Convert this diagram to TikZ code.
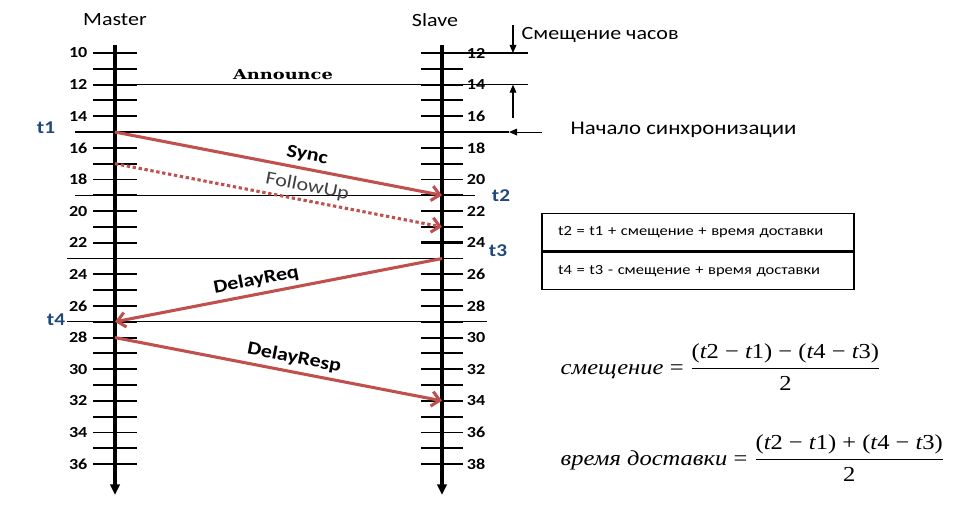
\documentclass[tikz,border=0pt]{standalone}
\usepackage{amsmath}
\usepackage{fontspec}
\setmainfont{Carlito}[FakeStretch=1.18]
\newfontfamily\serifcyr{Liberation Serif}[FakeStretch=1.15]
\newfontfamily\annfont{DejaVu Serif}[FakeStretch=1.3]
\usepackage{tikz}
\usetikzlibrary{arrows.meta,positioning}
\definecolor{msgred}{HTML}{C0504D}
\definecolor{tblue}{HTML}{1F497D}
\newcommand{\tmark}[1]{{\itshape t}#1}

\begin{document}
\begin{tikzpicture}[x=0.75pt,y=-0.75pt,
                    axis/.style={line width=2.4pt,-{Triangle[length=8pt,width=7pt]}},
                    tick/.style={line width=1.4pt},
                    hline/.style={line width=0.9pt},
                    msg/.style={line width=2.3pt,draw=msgred,-{Straight Barb[length=6pt,width=11pt]}},
                    ticklabel/.style={font=\fontsize{11.5}{12}\selectfont\bfseries,inner sep=1pt},
                    msglabel/.style={font=\fontsize{14}{16}\selectfont\bfseries,sloped,above},
                    tlabel/.style={font=\fontsize{13.5}{15}\selectfont\bfseries,text=tblue},
                    note/.style={font=\fontsize{14}{16}\selectfont},
                    notearrow/.style={line width=0.8pt,-{Triangle[length=6pt,width=5pt]}},
                    eqbox/.style={draw,line width=0.9pt,minimum height=28.1pt,inner xsep=12pt,text width=210pt,align=left,font=\fontsize{10.5}{12}\selectfont},
                    formula/.style={anchor=west,font=\serifcyr\fontsize{16}{19}\selectfont}
                ]
                    \useasboundingbox (0,0) rectangle (977,527);
                    \foreach \v in {10,...,36}
                        {
                        \coordinate (m\v) at (115,{53+(\v-10)*15.81});
                        \draw[tick] ([xshift=-16.5pt]m\v) -- ([xshift=16.5pt]m\v);
                    }
                    \foreach \v in {12,...,38}
                        {
                        \coordinate (s\v) at (442,{53+(\v-12)*15.81});
                        \draw[tick] ([xshift=-15.75pt]s\v) -- ([xshift=15.75pt]s\v);
                    }
                    \draw[tick,line width=2.6pt] ([xshift=-15.75pt]s24) -- ([xshift=15.75pt]s24);
                    \foreach \v in {10,12,...,36}
                        \node[ticklabel,anchor=east] (ml\v) at ([xshift=-19.5pt]m\v) {\v};
                    \foreach \v in {12,14,...,38}
                        \node[ticklabel,anchor=west] (sl\v) at ([xshift=17.5pt]s\v) {\v};

                    \coordinate (mtop) at (115,45);
                    \coordinate (mbot) at (115,495);
                    \coordinate (stop) at (442,45);
                    \coordinate (sbot) at (442,495);
                    \draw[axis] (mtop) -- (mbot);
                    \draw[axis] (stop) -- (sbot);
                    \node[note] (master) at (115,20) {Master};
                    \node[note] (slave) at (435,20) {Slave};

                    \draw[hline] (93,0 |- m12) -- (528,0 |- m12);
                    \draw[hline] (s12) -- (528,0 |- s12);
                    \coordinate (syncstart) at (509,0 |- m15);
                    \draw[hline] (75,0 |- m15) -- (syncstart);
                    \draw[hline] (75,0 |- m19) -- (475,0 |- m19);
                    \draw[hline] (67,0 |- m23) -- (462,0 |- m23);
                    \draw[hline] (67,0 |- m27) -- (487,0 |- m27);

                    \node[font=\annfont\fontsize{10.3}{12}\selectfont\bfseries] (announce) at (283,75) {Announce};
                    \draw[msg] (m15) -- node[msglabel,pos=0.58] (sync) {Sync} (s21);
                    \draw[msg,dash pattern=on 2.5pt off 2pt] (m17) -- node[msglabel,pos=0.58,font=\fontsize{14}{16}\selectfont,text=black!75] (followup) {FollowUp} (s23);
                    \draw[msg] (s25) -- node[msglabel,pos=0.56] (delayreq) {DelayReq} (m27);
                    \draw[msg] (m28) -- node[msglabel,pos=0.54] (delayresp) {DelayResp} (s34);

                    \node[tlabel] (t1) at (46,128) {t1};
                    \node[tlabel] (t2) at (501,196) {t2};
                    \node[tlabel] (t3) at (498,251) {t3};
                    \node[tlabel] (t4) at (56,320) {t4};

                    \coordinate (offtop) at (513,25);
                    \coordinate (offbot) at (513,118);
                    \coordinate (syncend) at (542,0 |- m15);
                    \draw[notearrow] (offtop) -- (513,0 |- s12);
                    \draw[notearrow] (offbot) -- (513,0 |- m12);
                    \draw[notearrow] (syncend) -- (syncstart);
                    \node[note,anchor=west] (offset) at (517,35) {Смещение часов};
                    \node[note,font=\fontsize{14.5}{16}\selectfont,anchor=west] (syncnote) at (566,130) {Начало синхронизации};

                    \node[eqbox] (rel1) at (698,232) {t2 = t1 + смещение + время доставки};
                    \node[eqbox,below=0pt of rel1] (rel2) {t4 = t3 - смещение + время доставки};

                    \node[formula] (eqoffset) at (556,367) {$\text{\itshape смещение} \mathrel{\text{=}} \dfrac{\text{(\tmark2 − \tmark1) − (\tmark4 − \tmark3)}}{\text{2}}$};
                    \node[formula] (eqdelay) at (556,458) {$\text{\itshape время доставки} \mathrel{\text{=}} \dfrac{\text{(\tmark2 − \tmark1) + (\tmark4 − \tmark3)}}{\text{2}}$};
                \end{tikzpicture}
\end{document}
